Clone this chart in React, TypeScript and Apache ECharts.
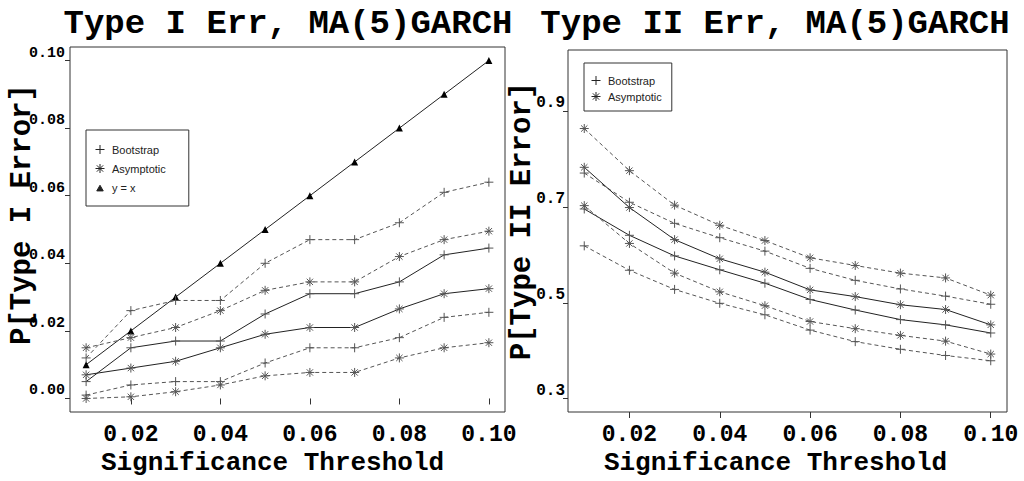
import React, { useEffect, useRef } from "react";
import * as echarts from "echarts";

const thresholds = [0.01, 0.02, 0.03, 0.04, 0.05, 0.06, 0.07, 0.08, 0.09, 0.1];

// Type I error (left panel)
const t1BootUpper = [0.012, 0.026, 0.029, 0.029, 0.040, 0.047, 0.047, 0.052, 0.061, 0.064];
const t1BootMid = [0.005, 0.015, 0.017, 0.017, 0.025, 0.031, 0.031, 0.0345, 0.0425, 0.0445];
const t1BootLower = [0.001, 0.004, 0.005, 0.005, 0.0105, 0.015, 0.015, 0.018, 0.024, 0.0255];
const t1AsymUpper = [0.015, 0.018, 0.021, 0.026, 0.032, 0.0345, 0.0345, 0.042, 0.047, 0.0495];
const t1AsymMid = [0.007, 0.009, 0.011, 0.015, 0.019, 0.021, 0.021, 0.0265, 0.031, 0.0325];
const t1AsymLower = [0.0, 0.0005, 0.002, 0.004, 0.0067, 0.0077, 0.0077, 0.012, 0.015, 0.0165];
const t1Identity = [0.01, 0.02, 0.03, 0.04, 0.05, 0.06, 0.07, 0.08, 0.09, 0.1];

// Type II error (right panel)
const t2AsymUpper = [0.864, 0.776, 0.704, 0.662, 0.630, 0.594, 0.578, 0.562, 0.552, 0.516];
const t2BootUpper = [0.771, 0.710, 0.666, 0.636, 0.608, 0.572, 0.547, 0.529, 0.514, 0.497];
const t2AsymMid = [0.783, 0.699, 0.632, 0.592, 0.564, 0.527, 0.513, 0.496, 0.486, 0.454];
const t2BootMid = [0.696, 0.641, 0.598, 0.569, 0.541, 0.507, 0.485, 0.465, 0.454, 0.437];
const t2AsymLower = [0.703, 0.624, 0.562, 0.523, 0.494, 0.461, 0.446, 0.432, 0.420, 0.393];
const t2BootLower = [0.619, 0.568, 0.528, 0.499, 0.475, 0.443, 0.419, 0.403, 0.390, 0.379];

const xTicks = [0.02, 0.04, 0.06, 0.08, 0.1];
const y1Ticks = [0, 0.02, 0.04, 0.06, 0.08, 0.1];
const y2Ticks = [0.3, 0.5, 0.7, 0.9];

const PLUS = "path://M5,0 L5,10 M0,5 L10,5";
const STAR = "path://M5,0 L5,10 M0,5 L10,5 M1.5,1.5 L8.5,8.5 M8.5,1.5 L1.5,8.5";
const SMALL_TRI = "path://M0,0 M10,10 M5,2.5 L8.6,8.8 L1.4,8.8 Z";
const MONO = '"Liberation Mono", "DejaVu Sans Mono", monospace';
const SANS = '"Liberation Sans Narrow", "Liberation Sans", Arial, sans-serif';

function mk(name: string, vals: number[], panel: number, kind: string, dashed: boolean) {
  const symbol = kind === "plus" ? PLUS : kind === "star" ? STAR : "triangle";
  return {
    type: "line",
    name,
    xAxisIndex: panel,
    yAxisIndex: panel,
    data: thresholds.map((x, i) => [x, vals[i]]),
    symbol,
    symbolSize: kind === "tri" ? 7 : 9,
    showSymbol: true,
    showAllSymbol: true,
    silent: true,
    lineStyle: { color: dashed ? "#555" : "#222", width: 1, type: dashed ? [4, 3] : "solid" },
    itemStyle: kind === "tri"
      ? { color: "#000", borderColor: "#000", borderWidth: 0 }
      : { color: "#555", borderColor: "#555", borderWidth: 1 },
    emphasis: { disabled: true },
  };
}

export default function App() {
  const ref = useRef<HTMLDivElement>(null);
  useEffect(() => {
    if (!ref.current) return;
    const chart = echarts.init(ref.current, undefined, { renderer: "svg" });
    const xAxisBase = (gridIndex: number, padRight: number) => ({
      type: "value",
      gridIndex,
      min: 0.0064,
      max: 0.1036,
      name: "Significance Threshold",
      nameLocation: "middle",
      nameGap: 38,
      nameMoveOverlap: false,
      nameTextStyle: { fontFamily: MONO, fontWeight: "bold", fontSize: 26, color: "#000", padding: [0, padRight, 0, 0] },
      axisLine: { show: false },
      axisTick: { show: true, inside: false, length: 6, customValues: xTicks, lineStyle: { color: "#333" } },
      axisLabel: {
        customValues: xTicks,
        formatter: (v: number) => v.toFixed(2),
        fontFamily: MONO,
        fontWeight: "bold",
        fontSize: 23,
        color: "#000",
        margin: 11,
      },
      splitLine: { show: false },
    });
    const option = {
      animation: false,
      backgroundColor: "#fff",
      grid: [
        { left: 70, top: 47, width: 435, height: 371, show: true, borderColor: "#333", borderWidth: 1, backgroundColor: "transparent" },
        { left: 568, top: 50, width: 439, height: 368, show: true, borderColor: "#333", borderWidth: 1, backgroundColor: "transparent" },
      ],
      xAxis: [xAxisBase(0, 30), xAxisBase(1, 24)],
      yAxis: [
        {
          type: "value",
          gridIndex: 0,
          min: -0.004,
          max: 0.104,
          name: "P[Type I Error]",
          nameLocation: "middle",
          nameGap: 33,
          nameMoveOverlap: false,
          nameRotate: 90,
          nameTextStyle: { fontFamily: MONO, fontWeight: "bold", fontSize: 29, color: "#000", padding: [0, 0, 0, 30] },
          axisLine: { show: false },
          axisTick: { show: true, inside: false, length: 5, customValues: y1Ticks, lineStyle: { color: "#333" } },
          axisLabel: {
            customValues: y1Ticks,
            formatter: (v: number) => v.toFixed(2),
            fontFamily: MONO,
            fontWeight: "bold",
            fontSize: 15,
            color: "#000",
            margin: 5,
            verticalAlign: "bottom",
          },
          splitLine: { show: false },
        },
        {
          type: "value",
          gridIndex: 1,
          min: 0.272,
          max: 1.028,
          name: "P[Type II Error]",
          nameLocation: "middle",
          nameGap: 31,
          nameMoveOverlap: false,
          nameRotate: 90,
          nameTextStyle: { fontFamily: MONO, fontWeight: "bold", fontSize: 29, color: "#000", padding: [0, 0, 0, 20] },
          axisLine: { show: false },
          axisTick: { show: true, inside: false, length: 5, customValues: y2Ticks, lineStyle: { color: "#333" } },
          axisLabel: {
            customValues: y2Ticks,
            formatter: (v: number) => v.toFixed(1),
            fontFamily: MONO,
            fontWeight: "bold",
            fontSize: 16,
            color: "#000",
            margin: 3,
            verticalAlign: "bottom",
          },
          splitLine: { show: false },
        },
      ],
      legend: [
        {
          left: 86,
          top: 130,
          orient: "vertical",
          borderColor: "#333",
          borderWidth: 1,
          borderRadius: 0,
          padding: [14, 23, 13, 9],
          itemGap: 8,
          itemWidth: 14,
          itemHeight: 9,
          selectedMode: false,
          textStyle: { fontFamily: SANS, fontSize: 11, color: "#222" },
          itemStyle: { color: "#222", borderColor: "#222", borderWidth: 1 },
          data: [
            { name: "Bootstrap", icon: PLUS },
            { name: "Asymptotic", icon: STAR },
            { name: "y = x", icon: SMALL_TRI },
          ],
        },
        {
          left: 584,
          top: 63,
          orient: "vertical",
          borderColor: "#333",
          borderWidth: 1,
          borderRadius: 0,
          padding: [12, 10, 9, 7],
          itemGap: 5,
          itemWidth: 14,
          itemHeight: 9,
          selectedMode: false,
          textStyle: { fontFamily: SANS, fontSize: 11, color: "#222" },
          itemStyle: { color: "#222", borderColor: "#222", borderWidth: 1 },
          data: [
            { name: "Bootstrap", icon: PLUS },
            { name: "Asymptotic", icon: STAR },
          ],
        },
      ],
      graphic: [
        {
          type: "text",
          x: 288,
          y: 24,
          style: {
            text: "Type I Err, MA(5)GARCH",
            font: `bold 34px ${MONO}`,
            fill: "#000",
            textAlign: "center",
            textVerticalAlign: "middle",
          },
        },
        {
          type: "text",
          x: 775,
          y: 24,
          style: {
            text: "Type II Err, MA(5)GARCH",
            font: `bold 34px ${MONO}`,
            fill: "#000",
            textAlign: "center",
            textVerticalAlign: "middle",
          },
        },
      ],
      series: [
        mk("y = x", t1Identity, 0, "tri", false),
        mk("Bootstrap", t1BootUpper, 0, "plus", true),
        mk("Bootstrap", t1BootMid, 0, "plus", false),
        mk("Bootstrap", t1BootLower, 0, "plus", true),
        mk("Asymptotic", t1AsymUpper, 0, "star", true),
        mk("Asymptotic", t1AsymMid, 0, "star", false),
        mk("Asymptotic", t1AsymLower, 0, "star", true),
        mk("Bootstrap", t2BootUpper, 1, "plus", true),
        mk("Bootstrap", t2BootMid, 1, "plus", false),
        mk("Bootstrap", t2BootLower, 1, "plus", true),
        mk("Asymptotic", t2AsymUpper, 1, "star", true),
        mk("Asymptotic", t2AsymMid, 1, "star", false),
        mk("Asymptotic", t2AsymLower, 1, "star", true),
      ],
    };
    chart.setOption(option as any);
    return () => chart.dispose();
  }, []);
  return (
    <div
      ref={ref}
      style={{ position: "fixed", left: 0, top: 0, width: 1024, height: 481, background: "#fff" }}
    />
  );
}
